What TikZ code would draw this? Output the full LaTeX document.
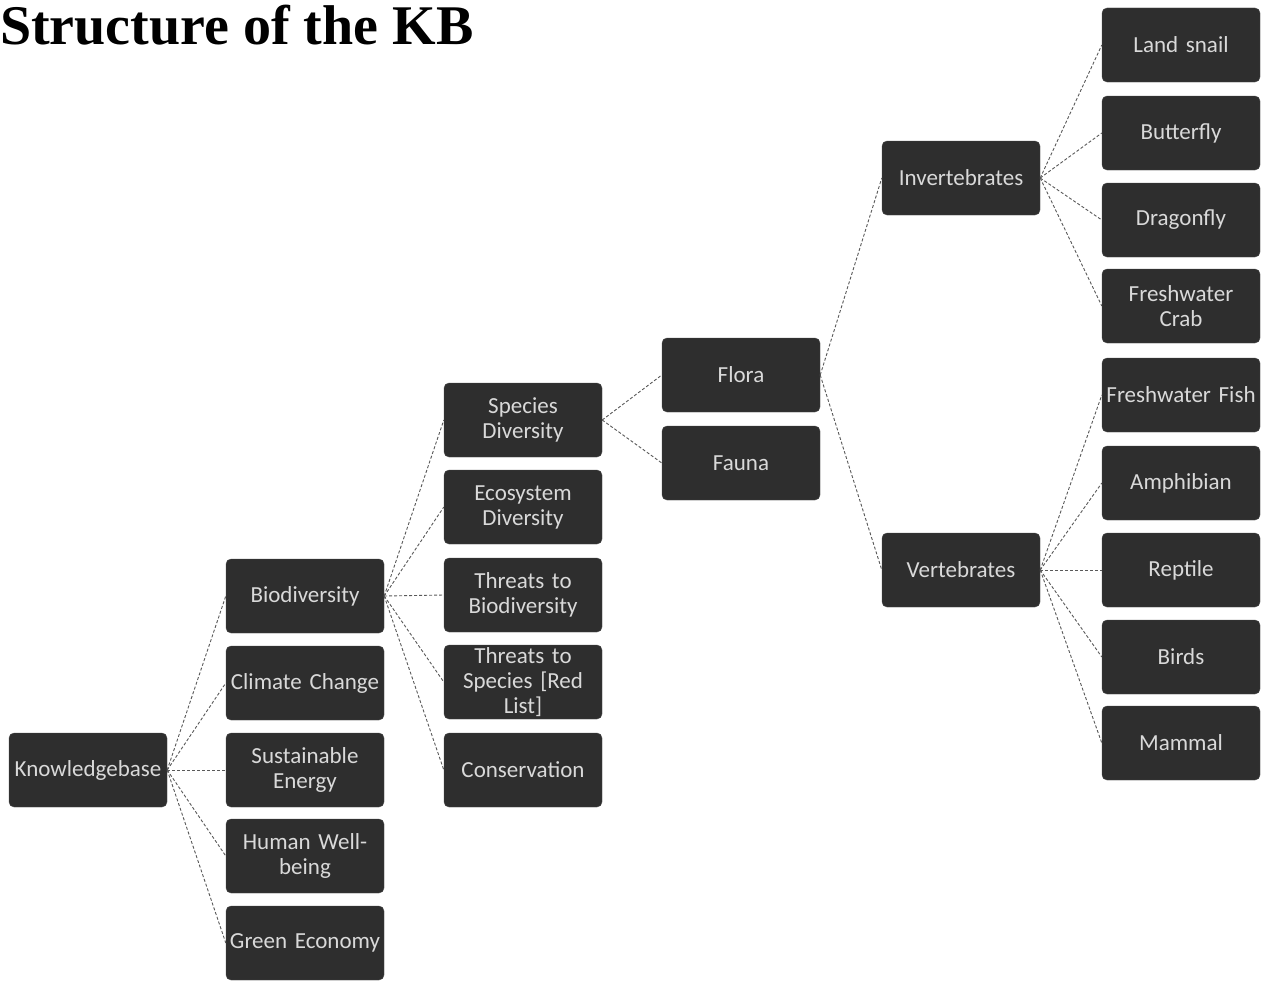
\documentclass[tikz,border=0pt]{standalone}
\usepackage{fontspec}
\setmainfont{Liberation Serif}
\newfontfamily\boxfont{Carlito}
\begin{document}
\begin{tikzpicture}[x=1pt,y=-1pt,
  tbox/.style={draw=black!70, fill=black!82, rounded corners=5pt,
    minimum width=156pt, minimum height=74pt, inner sep=1pt,
    text=black!15, align=center, text width=156pt,
    font=\boxfont\fontsize{23}{25}\selectfont},
  link/.style={draw=black!65, line width=0.9pt, densely dashed}]
\useasboundingbox (0,0) rectangle (1265,982);
\fill[white] (0,0) rectangle (1265,982);

% heading
\node[anchor=base west, inner sep=0pt, font=\bfseries\fontsize{56}{60}\selectfont] (title) at (0,45) {Structure of the KB};

% root
\node[tbox] (kb) at (88,770) {Knowledgebase};

% first level
\node[tbox] (bio) at (305,596) {Biodiversity};
\node[tbox] (clim) at (305,683) {Climate Change};
\node[tbox] (sus) at (305,770) {Sustainable\\Energy};
\node[tbox] (hum) at (305,856) {Human Well-\\being};
\node[tbox] (green) at (305,943) {Green Economy};

% biodiversity topics
\node[tbox] (spec) at (523,420) {Species\\Diversity};
\node[tbox] (eco) at (523,507) {Ecosystem\\Diversity};
\node[tbox] (thb) at (523,595) {Threats to\\Biodiversity};
\node[tbox] (ths) at (523,682) {Threats to\\Species [Red\\List]};
\node[tbox] (cons) at (523,770) {Conservation};

% species diversity
\node[tbox] (flora) at (741,375) {Flora};
\node[tbox] (fauna) at (741,463) {Fauna};

% animal groups
\node[tbox] (inv) at (961,178) {Invertebrates};
\node[tbox] (vert) at (961,570) {Vertebrates};

% invertebrate species
\node[tbox] (snail) at (1181,45) {Land snail};
\node[tbox] (butt) at (1181,133) {Butterfly};
\node[tbox] (drag) at (1181,220) {Dragonfly};
\node[tbox] (crab) at (1181,306) {Freshwater\\Crab};

% vertebrate classes
\node[tbox] (fish) at (1181,395) {Freshwater Fish};
\node[tbox] (amph) at (1181,483) {Amphibian};
\node[tbox] (rept) at (1181,570) {Reptile};
\node[tbox] (birds) at (1181,657) {Birds};
\node[tbox] (mamm) at (1181,743) {Mammal};

% connectors
\foreach \c in {bio,clim,sus,hum,green} \draw[link] (kb.east) -- (\c.west);
\foreach \c in {spec,eco,thb,ths,cons} \draw[link] (bio.east) -- (\c.west);
\foreach \c in {flora,fauna} \draw[link] (spec.east) -- (\c.west);
\foreach \c in {inv,vert} \draw[link] (flora.east) -- (\c.west);
\foreach \c in {snail,butt,drag,crab} \draw[link] (inv.east) -- (\c.west);
\foreach \c in {fish,amph,rept,birds,mamm} \draw[link] (vert.east) -- (\c.west);
\end{tikzpicture}
\end{document}
